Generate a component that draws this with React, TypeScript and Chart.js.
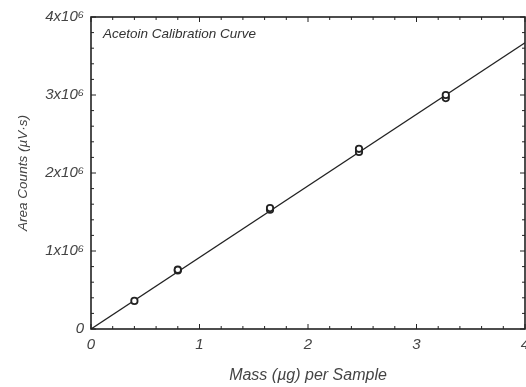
import React, { useEffect, useRef } from "react";
import { Chart, registerables } from "chart.js";

Chart.register(...registerables);

const massValues = [0.4, 0.8, 0.8, 1.65, 1.65, 2.47, 2.47, 3.27, 3.27];
const areaValues = [0.36e6, 0.75e6, 0.76e6, 1.53e6, 1.55e6, 2.27e6, 2.31e6, 2.96e6, 3.0e6];
const fitMass = [0, 4];
const fitArea = [0, 3.67e6];
const xTicks = [0, 1, 2, 3, 4];
const yTicks = [0, 1e6, 2e6, 3e6, 4e6];
const chartTitle = "Acetoin Calibration Curve";
const xTitle = "Mass (µg) per Sample";
const yTitle = "Area Counts (µV·s)";

const FONT = "Liberation Sans, Arial, sans-serif";
const INK = "#222";
const TEXT = "#444";

const framePlugin = {
  id: "frameTicks",
  afterDatasetsDraw(chart: any) {
    const { ctx, chartArea } = chart;
    const { left, right, top, bottom } = chartArea;
    const xs = chart.scales.x;
    const ys = chart.scales.y;
    ctx.save();
    ctx.strokeStyle = INK;
    ctx.lineWidth = 1.6;
    ctx.strokeRect(left, top, right - left, bottom - top);
    ctx.lineWidth = 1;
    const major = 5;
    const minor = 3;
    for (let i = 0; i <= 20; i++) {
      const v = i * 0.2;
      const len = i % 5 === 0 ? major : minor;
      const px = xs.getPixelForValue(v);
      ctx.beginPath();
      ctx.moveTo(px, bottom);
      ctx.lineTo(px, bottom - len);
      ctx.moveTo(px, top);
      ctx.lineTo(px, top + len);
      ctx.stroke();
    }
    for (let i = 0; i <= 20; i++) {
      const v = i * 0.2e6;
      const len = i % 5 === 0 ? major : minor;
      const py = ys.getPixelForValue(v);
      ctx.beginPath();
      ctx.moveTo(left, py);
      ctx.lineTo(left + len, py);
      ctx.moveTo(right, py);
      ctx.lineTo(right - len, py);
      ctx.stroke();
    }
    ctx.fillStyle = "#333";
    ctx.font = `italic 13.5px ${FONT}`;
    ctx.textBaseline = "middle";
    ctx.textAlign = "left";
    ctx.fillText(chartTitle, left + 12, top + 17);
    ctx.restore();
  },
};

export default function App() {
  const ref = useRef<HTMLCanvasElement | null>(null);
  useEffect(() => {
    if (!ref.current) return;
    const chart = new Chart(ref.current, {
      type: "scatter",
      data: {
        datasets: [
          {
            data: massValues.map((x, i) => ({ x, y: areaValues[i] })),
            pointRadius: 3.2,
            pointBorderWidth: 1.8,
            borderColor: INK,
            backgroundColor: "#fff",
            showLine: false,
          },
          {
            data: fitMass.map((x, i) => ({ x, y: fitArea[i] })),
            showLine: true,
            pointRadius: 0,
            borderColor: INK,
            borderWidth: 1.3,
            fill: false,
          },
        ],
      },
      plugins: [framePlugin],
      options: {
        responsive: false,
        animation: false,
        events: [],
        layout: { autoPadding: false, padding: { top: 17, right: 1, bottom: 0, left: 0 } },
        plugins: { legend: { display: false }, tooltip: { enabled: false }, title: { display: false } },
        scales: {
          x: {
            type: "linear",
            min: 0,
            max: 4,
            afterBuildTicks: (s: any) => {
              s.ticks = xTicks.map((value) => ({ value }));
            },
            ticks: {
              font: { family: FONT, size: 15, style: "italic" },
              color: TEXT,
              padding: 7,
              maxRotation: 0,
              autoSkip: false,
              callback: (v: any) => String(v),
            },
            grid: { display: false, drawTicks: false },
            border: { display: false },
            title: {
              display: true,
              text: xTitle,
              font: { family: FONT, size: 16, style: "italic" },
              color: TEXT,
              padding: { top: 0, bottom: 2 },
            },
            afterFit: (s: any) => {
              s.height = 58;
              s.paddingLeft = 0;
              s.paddingRight = 0;
            },
          },
          y: {
            type: "linear",
            min: 0,
            max: 4e6,
            afterBuildTicks: (s: any) => {
              s.ticks = yTicks.map((value) => ({ value }));
            },
            ticks: {
              font: { family: FONT, size: 15, style: "italic" },
              color: TEXT,
              padding: 7,
              autoSkip: false,
              callback: (v: any) => (v === 0 ? "0" : `${v / 1e6}x10⁶`),
            },
            grid: { display: false, drawTicks: false },
            border: { display: false },
            title: {
              display: true,
              text: yTitle,
              font: { family: FONT, size: 13.5, style: "italic" },
              color: TEXT,
              padding: { top: 15, bottom: 0 },
            },
            afterFit: (s: any) => {
              s.width = 91;
              s.paddingTop = 0;
              s.paddingBottom = 0;
            },
          },
        },
      },
    });
    return () => chart.destroy();
  }, []);
  return (
    <div style={{ position: "fixed", left: 0, top: 0, width: 526, height: 387, background: "#fff" }}>
      <canvas ref={ref} width={526} height={387} style={{ display: "block", width: 526, height: 387 }} />
    </div>
  );
}
